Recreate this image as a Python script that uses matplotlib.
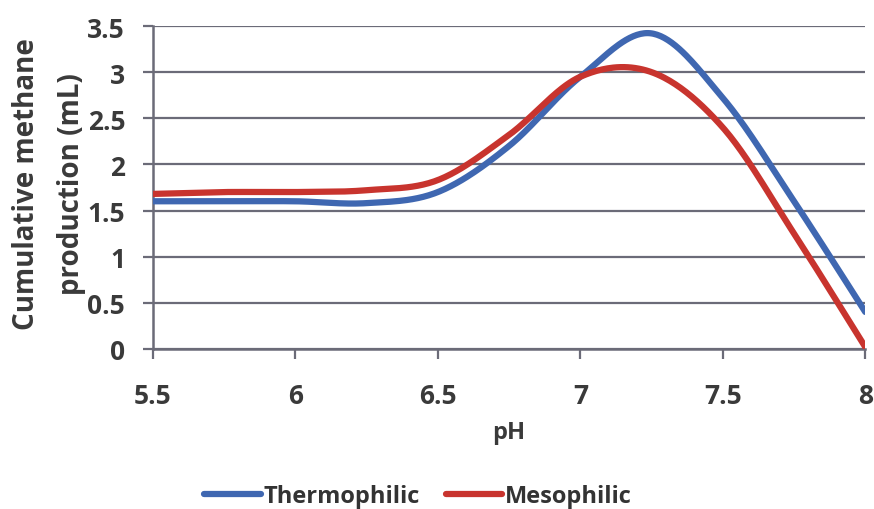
import numpy as np
import matplotlib
matplotlib.use("Agg")
import matplotlib.pyplot as plt

ph = [5.5, 5.75, 6.0, 6.25, 6.5, 6.75, 7.0, 7.25, 7.5, 7.75, 8.0]
thermophilic = [1.60, 1.60, 1.60, 1.58, 1.70, 2.20, 2.95, 3.42, 2.72, 1.60, 0.40]
mesophilic = [1.68, 1.70, 1.70, 1.72, 1.83, 2.32, 2.95, 3.00, 2.40, 1.25, 0.02]
x_ticks = [5.5, 6, 6.5, 7, 7.5, 8]
x_tick_labels = ["5.5", "6", "6.5", "7", "7.5", "8"]
y_ticks = [0, 0.5, 1, 1.5, 2, 2.5, 3, 3.5]
y_tick_labels = ["0", "0.5", "1", "1.5", "2", "2.5", "3", "3.5"]
series_names = ["Thermophilic", "Mesophilic"]
series_colors = ["#3f67b1", "#c8342e"]

plt.rcParams['font.family'] = ['Open Sans', 'DejaVu Sans']


def smooth(xs, ys, n=40):
    xs = np.asarray(xs, float)
    ys = np.asarray(ys, float)
    px = np.concatenate([[xs[0]], xs, [xs[-1]]])
    py = np.concatenate([[ys[0]], ys, [ys[-1]]])
    outx, outy = [], []
    t = np.linspace(0, 1, n)
    for i in range(1, len(px) - 2):
        x0, x3 = px[i], px[i + 1]
        y0, y3 = py[i], py[i + 1]
        x1 = x0 + (px[i + 1] - px[i - 1]) / 6
        y1 = y0 + (py[i + 1] - py[i - 1]) / 6
        x2 = x3 - (px[i + 2] - px[i]) / 6
        y2 = y3 - (py[i + 2] - py[i]) / 6
        bx = (1 - t) ** 3 * x0 + 3 * (1 - t) ** 2 * t * x1 + 3 * (1 - t) * t ** 2 * x2 + t ** 3 * x3
        by = (1 - t) ** 3 * y0 + 3 * (1 - t) ** 2 * t * y1 + 3 * (1 - t) * t ** 2 * y2 + t ** 3 * y3
        outx.extend(bx)
        outy.extend(by)
    return outx, outy


fig = plt.figure(figsize=(8.74, 5.10), dpi=100)
ax = fig.add_axes([0.175, 0.314, 0.815, 0.633])

for name, vals, col in zip(series_names, [thermophilic, mesophilic], series_colors):
    sx, sy = smooth(ph, vals)
    ax.plot(sx, sy, color=col, lw=4.5, label=name, solid_capstyle='round', zorder=3)

ax.set_xlim(5.5, 8)
ax.set_ylim(0, 3.5)
ax.set_xticks(x_ticks)
ax.set_xticklabels(x_tick_labels)
ax.set_yticks(y_ticks)
ax.set_yticklabels(y_tick_labels)
ax.yaxis.grid(True, color="#6b6b78", lw=1.6)
ax.set_axisbelow(True)
for s in ["top", "right"]:
    ax.spines[s].set_visible(False)
for s in ["left", "bottom"]:
    ax.spines[s].set_color("#6b6b78")
    ax.spines[s].set_linewidth(1.8)
ax.tick_params(axis='both', colors="#6b6b78", length=7, width=1.6)
ax.tick_params(axis='x', pad=17, labelsize=19, labelcolor="#3a3a3a")
ax.tick_params(axis='y', pad=13, labelsize=19, labelcolor="#3a3a3a")
for lab in ax.get_xticklabels() + ax.get_yticklabels():
    lab.set_fontweight('bold')

ax.set_xlabel("pH", fontsize=17, fontweight='bold', color="#3a3a3a", labelpad=8)
fig.text(0.030, 0.64, "Cumulative methane", rotation=90, ha='center', va='center',
         fontsize=20, fontweight='bold', color="#3a3a3a")
fig.text(0.082, 0.64, "production (mL)", rotation=90, ha='center', va='center',
         fontsize=20, fontweight='bold', color="#3a3a3a")

leg = fig.legend(loc='center', bbox_to_anchor=(0.478, 0.025), ncol=2, frameon=False,
                 fontsize=17, handlelength=2.4, handletextpad=0.1, columnspacing=1.1)
for t in leg.get_texts():
    t.set_fontweight('bold')
    t.set_color("#333333")

fig.savefig("out.png", dpi=100)
